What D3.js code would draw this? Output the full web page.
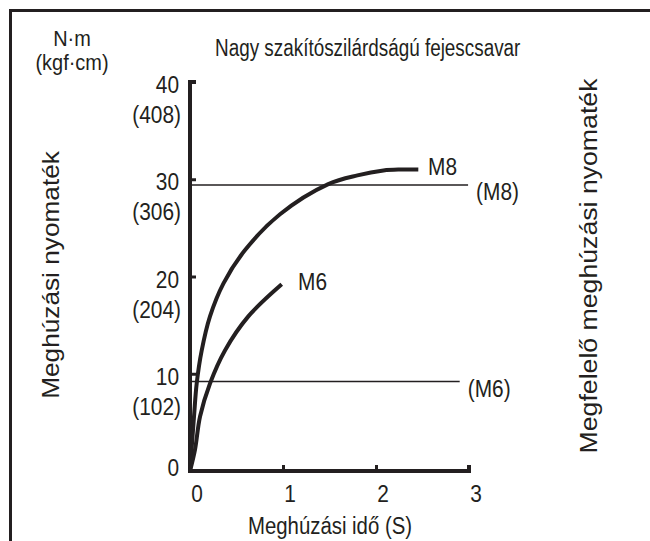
<!DOCTYPE html>
<html><head><meta charset="utf-8">
<script src="https://cdn.jsdelivr.net/npm/d3@7"></script>
<style>body{margin:0;background:#fff}svg{display:block}text{font-family:"Liberation Sans",Arial,sans-serif;fill:#231f20}</style>
</head><body>
<svg id="c" width="650" height="541"></svg>
<script>
const yTicks = [0, 10, 20, 30, 40];
const yTickKgf = ["", "(102)", "(204)", "(306)", "(408)"];
const xTicks = [0, 1, 2, 3];
const m8Time = [0, 0.043, 0.072, 0.126, 0.215, 0.36, 0.59, 0.968, 1.487, 1.8, 2.08, 2.26, 2.455];
const m8Torque = [0, 5.6, 9.0, 12.4, 15.9, 19.3, 22.7, 26.4, 29.5, 30.4, 30.9, 31.0, 31.0];
const m6Time = [0, 0.054, 0.108, 0.215, 0.376, 0.627, 0.986];
const m6Torque = [0, 2.2, 5.6, 9.0, 12.4, 15.9, 19.2];
const refNames = ["(M8)", "(M6)"];
const refTorque = [29.4, 9.2];
const refEnd = [2.99, 2.9];

const svg = d3.select("#c");
const x = d3.scaleLinear().domain([0, 3]).range([190, 469]);
const y = d3.scaleLinear().domain([0, 40]).range([471, 82]);
const ink = "#231f20";
function txt(px, py, s, fs, anchor, sx, sy, rot) {
  return svg.append("text").attr("font-size", fs).attr("text-anchor", anchor || "start")
    .attr("transform", `translate(${px},${py})` + (rot ? " rotate(-90)" : "") + ` scale(${sx},${sy})`).text(s);
}

// frame
svg.append("path").attr("d", "M10.5,560V10.5H660").attr("fill", "none").attr("stroke", ink).attr("stroke-width", 3);

// reference lines
refTorque.forEach((v, i) => {
  svg.append("line").attr("x1", x(0)).attr("x2", x(refEnd[i])).attr("y1", y(v)).attr("y2", y(v))
    .attr("stroke", ink).attr("stroke-width", 1.5);
  txt(x(refEnd[i]) + 8, y(v) + 15, refNames[i], 22, "start", 0.95, 1.08);
});

// axes
const yAxis = d3.axisRight(y).tickValues(yTicks).tickSize(6).tickFormat("");
const gy = svg.append("g").attr("transform", `translate(${x(0)},0)`).call(yAxis);
const xAxis = d3.axisTop(x).tickValues(xTicks).tickSize(6).tickFormat("");
const gx = svg.append("g").attr("transform", `translate(0,${y(0)})`).call(xAxis);
[gx, gy].forEach(g => {
  g.select(".domain").attr("stroke", ink).attr("stroke-width", 4);
  g.selectAll(".tick line").attr("stroke", ink).attr("stroke-width", 3);
});
gy.select(".domain").attr("d", `M6,${y(40)}H0V${y(0)+2}`);
gx.select(".domain").attr("d", `M${x(0)-2},0H${x(3)}V-6`);

// y tick labels
yTicks.forEach((v, i) => {
  txt(179, y(v) + (v === 0 ? 5 : 11), v, 22, "end", 0.95, 1.08);
  if (yTickKgf[i]) txt(181, y(v) + 41, yTickKgf[i], 22, "end", 0.95, 1.08);
});
// x tick labels
xTicks.forEach(v => txt(x(v) + 7, y(0) + 31, v, 22, "middle", 0.95, 1.08));

// curves
const line = d3.line().x(d => x(d[0])).y(d => y(d[1])).curve(d3.curveCatmullRom.alpha(0.5));
svg.append("path").attr("d", line(m8Time.map((t, i) => [t, m8Torque[i]]))).attr("fill", "none").attr("stroke", ink).attr("stroke-width", 4);
svg.append("path").attr("d", line(m6Time.map((t, i) => [t, m6Torque[i]]))).attr("fill", "none").attr("stroke", ink).attr("stroke-width", 4);
txt(428, 175, "M8", 22, "start", 0.95, 1.08);
txt(298, 290, "M6", 22, "start", 0.95, 1.08);

// titles
txt(72, 46, "N·m", 21, "middle", 0.95, 1.08);
txt(72, 70, "(kgf·cm)", 21, "middle", 0.95, 1.08);
txt(215, 56, "Nagy szakítószilárdságú fejescsavar", 21, "start", 0.9, 1.18);
txt(330, 534, "Meghúzási idő (S)", 21, "middle", 0.97, 1.15);
txt(59, 275, "Meghúzási nyomaték", 23, "middle", 1.14, 1.0, true);
txt(597, 266, "Megfelelő meghúzási nyomaték", 23, "middle", 1.16, 1.0, true);
</script>
</body></html>
